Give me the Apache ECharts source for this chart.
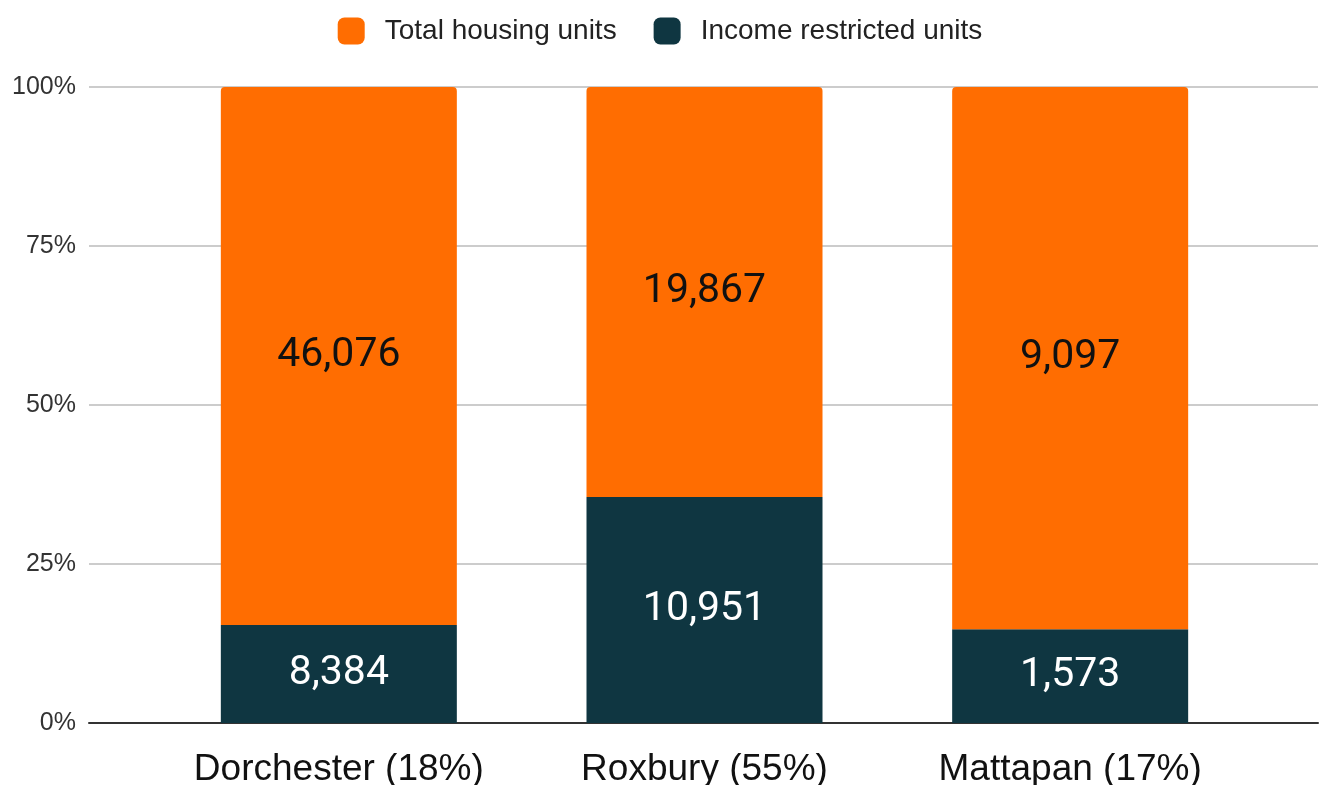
<!DOCTYPE html>
<html>
<head>
<meta charset="utf-8">
<script src="https://cdn.jsdelivr.net/npm/echarts@6/dist/echarts.min.js"></script>
<style>
  html, body { margin: 0; padding: 0; background: #fff; }
  #chart { width: 1320px; height: 785px; }
</style>
</head>
<body>
<div id="chart"></div>
<script>
// data
const categories = ['Dorchester (18%)', 'Roxbury (55%)', 'Mattapan (17%)'];
const restrictedUnits = [8384, 10951, 1573];
const totalUnits = [46076, 19867, 9097];
const yTicks = [0, 25, 50, 75, 100];

// stacked to 100%
const sums = categories.map((c, i) => restrictedUnits[i] + totalUnits[i]);
const restrictedPct = restrictedUnits.map((v, i) => v / sums[i] * 100);
const totalPct = totalUnits.map((v, i) => v / sums[i] * 100);

const fmt = n => n.toLocaleString('en-US');
const ORANGE = '#FF6D01';
const DARK = '#0F3641';

const myChart = echarts.init(document.getElementById('chart'));
const option = {
  animation: false,
  legend: {
    top: 12,
    left: 'center',
    itemWidth: 27,
    itemHeight: 27,
    itemGap: 37,
    icon: 'roundRect',
    textStyle: { fontSize: 28, color: '#222', fontFamily: 'Liberation Sans', padding: [0, 0, 0, 15] },
    data: ['Total housing units', 'Income restricted units']
  },
  grid: [
    // full width grid for the gridlines and y labels
    { left: 89, right: 2, top: 87, bottom: 62, outerBoundsMode: 'none', containLabel: false },
    // bars
    { left: 156, right: 67, top: 87, bottom: 62, outerBoundsMode: 'none', containLabel: false }
  ],
  xAxis: [
    {
      gridIndex: 0, type: 'value', min: 0, max: 1,
      axisLine: { show: true, onZero: false, lineStyle: { color: '#333', width: 2 } },
      axisTick: { show: false }, axisLabel: { show: false }, splitLine: { show: false }
    },
    {
      gridIndex: 1,
      type: 'category',
      data: categories,
      axisLine: { show: false },
      axisTick: { show: false },
      axisLabel: { interval: 0, fontSize: 37, color: '#111', fontFamily: 'Liberation Sans', margin: 28 }
    }
  ],
  yAxis: [
    {
      gridIndex: 0,
      type: 'value',
      min: 0,
      max: 100,
      interval: 25,
      axisLine: { show: false },
      axisTick: { show: false },
      axisLabel: {
        fontSize: 25, color: '#333', fontFamily: 'Liberation Sans', margin: 13,
        formatter: v => yTicks.includes(v) ? v + '%' : ''
      },
      splitLine: { lineStyle: { color: '#cccccc', width: 2 } }
    },
    {
      gridIndex: 1, type: 'value', min: 0, max: 100,
      axisLine: { show: false }, axisTick: { show: false }, axisLabel: { show: false }, splitLine: { show: false }
    }
  ],
  series: [
    {
      name: 'Income restricted units',
      type: 'bar',
      xAxisIndex: 1,
      yAxisIndex: 1,
      stack: 'all',
      barWidth: 236,
      data: restrictedPct,
      itemStyle: { color: DARK },
      label: {
        show: true, position: 'inside', fontSize: 41, color: '#fff', fontFamily: 'Roboto',
        formatter: p => fmt(restrictedUnits[p.dataIndex])
      }
    },
    {
      name: 'Total housing units',
      type: 'bar',
      xAxisIndex: 1,
      yAxisIndex: 1,
      stack: 'all',
      barWidth: 236,
      data: totalPct,
      itemStyle: { color: ORANGE, borderRadius: [4, 4, 0, 0] },
      label: {
        show: true, position: 'inside', fontSize: 41, color: '#111', fontFamily: 'Roboto',
        formatter: p => fmt(totalUnits[p.dataIndex])
      }
    }
  ]
};
option && myChart.setOption(option);
</script>
</body>
</html>
